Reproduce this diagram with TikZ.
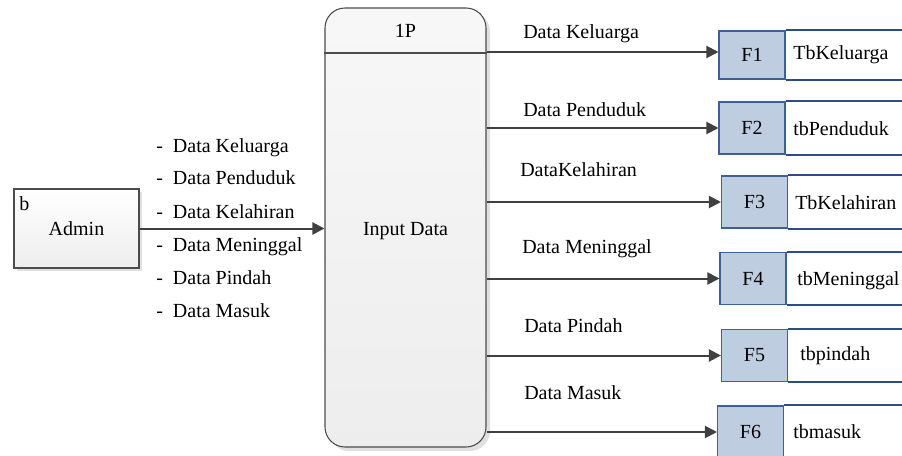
\documentclass[tikz,border=0pt]{standalone}
\usepackage{fontspec}
\setmainfont{Liberation Serif}
\usetikzlibrary{arrows.meta,shadows}
\definecolor{arrowgray}{HTML}{404040}
\definecolor{storefill}{HTML}{BFCDE1}
\definecolor{storeedge}{HTML}{3C6196}
\definecolor{storeline}{HTML}{2B4C86}
\tikzset{
  txt/.style={font=\fontsize{15}{18}\selectfont, inner sep=0pt},
  flow/.style={draw=arrowgray, line width=1.5pt, -{Triangle[length=9pt,width=9pt]}},
  procbox/.style={draw=black!70, line width=0.8pt, rounded corners=15pt,
    top color=white!97!black, bottom color=white!93!black,
    drop shadow={shadow xshift=3pt, shadow yshift=-3pt, fill=black!12, opacity=1},
    minimum width=120.75pt, minimum height=329.25pt, inner sep=0pt},
  entbox/.style={draw=black!70, line width=0.8pt,
    top color=white, bottom color=white!93!black,
    drop shadow={shadow xshift=2.5pt, shadow yshift=-2.5pt, fill=black!12, opacity=1},
    minimum width=93.75pt, minimum height=59.25pt, inner sep=0pt,
    font=\fontsize{15}{18}\selectfont},
  fbox/.style={draw=storeedge, fill=storefill, line width=0.8pt,
    minimum width=49.5pt, minimum height=39pt, inner sep=0pt,
    font=\fontsize{15}{18}\selectfont},
  sline/.style={draw=storeline, line width=1.5pt},
}
\begin{document}
\begin{tikzpicture}[x=0.75pt,y=-0.75pt]
\useasboundingbox (0,0) rectangle (902,456);

% process
\node[procbox] (proc) at (405.5,227.5) {};
\draw[black!70, line width=0.8pt] (proc.west |- 0,53) coordinate (hl) -- (proc.east |- 0,53) coordinate (hr);
\node[txt] (pid) at (405.5,31) {1P};
\node[txt] (pname) at (405.5,231) {Input Data};

% admin
\node[entbox] (admin) at (76.5,228.5) {Admin};
\node[txt, anchor=north west] (bl) at (19,196) {b};

% input list
\node[txt, anchor=base west] (l1) at (156,152) {-\hspace{7.5pt}Data Keluarga};
\node[txt, anchor=base west] (l2) at (156,185) {-\hspace{7.5pt}Data Penduduk};
\node[txt, anchor=base west] (l3) at (156,218) {-\hspace{7.5pt}Data Kelahiran};
\node[txt, anchor=base west] (l4) at (156,251) {-\hspace{7.5pt}Data Meninggal};
\node[txt, anchor=base west] (l5) at (156,284) {-\hspace{7.5pt}Data Pindah};
\node[txt, anchor=base west] (l6) at (156,317) {-\hspace{7.5pt}Data Masuk};

\draw[flow] (admin.east) -- (admin.east -| proc.west);

% stores
\node[fbox, minimum height=36pt] (F1) at (752,55) {F1};
\node[fbox] (F2) at (752,128) {F2};
\node[fbox] (F3) at (754.5,202) {F3};
\node[fbox] (F4) at (753,278.5) {F4};
\node[fbox] (F5) at (754.5,355.5) {F5};
\node[fbox] (F6) at (750.5,432) {F6};

\foreach \f in {F1,F2,F3,F4,F5,F6}{
  \draw[sline] (\f.north east) -- ++(125,0);
  \draw[sline] (\f.south east) -- ++(125,0);
}

\node[txt, anchor=west] (t1) at (793,55) {TbKeluarga};
\node[txt, anchor=west] (t2) at (793,129) {tbPenduduk};
\node[txt, anchor=west] (t3) at (795,203) {TbKelahiran};
\node[txt, anchor=west] (t4) at (797,281) {tbMeninggal};
\node[txt, anchor=west] (t5) at (800,356) {tbpindah};
\node[txt, anchor=west] (t6) at (793,432) {tbmasuk};

% output flows
\draw[flow] (proc.east |- 0,52) -- (F1.west |- 0,52);
\draw[flow] (proc.east |- F2.west) -- (F2.west);
\draw[flow] (proc.east |- F3.west) -- (F3.west);
\draw[flow] (proc.east |- F4.west) -- (F4.west);
\draw[flow] (proc.east |- F5.west) -- (F5.west);
\draw[flow] (proc.east |- F6.west) -- (F6.west);

\node[txt, anchor=base west] (o1) at (523,39) {Data Keluarga};
\node[txt, anchor=base west] (o2) at (523,117) {Data Penduduk};
\node[txt, anchor=base west] (o3) at (520,176) {DataKelahiran};
\node[txt, anchor=base west] (o4) at (522,253) {Data Meninggal};
\node[txt, anchor=base west] (o5) at (524,332) {Data Pindah};
\node[txt, anchor=base west] (o6) at (524,399) {Data Masuk};
\end{tikzpicture}
\end{document}
